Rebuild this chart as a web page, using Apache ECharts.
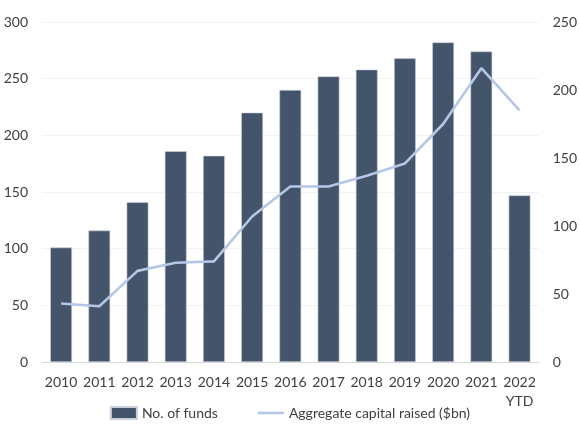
<!DOCTYPE html>
<html lang="en">
<head>
    <meta charset="UTF-8">
    <title>Funds</title>
    <style>
        * { padding: 0; margin: 0; box-sizing: border-box; }
        html, body, #chart { width: 100%; height: 100%; background: #fff; }
    </style>
</head>
<body>
    <div id="chart"></div>
    <script src="https://cdn.jsdelivr.net/npm/echarts@6/dist/echarts.min.js"></script>
    <script>
        // categories
        const years = ['2010', '2011', '2012', '2013', '2014', '2015', '2016', '2017', '2018', '2019', '2020', '2021', '2022\nYTD']
        // No. of funds (left axis)
        const fundCount = [101, 116, 141, 186, 182, 220, 240, 252, 258, 268, 282, 274, 147]
        // Aggregate capital raised, $bn (right axis)
        const capitalRaised = [43, 41, 67, 73, 74, 107, 129, 129, 137, 146, 175, 216, 185]

        const textColor = '#404040'
        const fontFamily = 'Lato, "Noto Sans", sans-serif'

        var myChart = echarts.init(document.getElementById('chart'))

        var option = {
            animation: false,
            textStyle: { fontFamily: fontFamily },
            grid: { left: 42, right: 40, top: 22, bottom: 73 },
            legend: {
                bottom: 10,
                left: 'center',
                itemGap: 40,
                itemWidth: 26,
                itemHeight: 12,
                symbolKeepAspect: true,
                textStyle: { color: textColor, fontSize: 14, fontFamily: fontFamily },
                data: [
                    { name: 'No. of funds', icon: 'rect' },
                    { name: 'Aggregate capital raised ($bn)', icon: 'path://M0,0h26v2.6h-26z' }
                ]
            },
            xAxis: {
                type: 'category',
                data: years,
                axisTick: { show: false },
                axisLine: { lineStyle: { color: '#D9D9D9' } },
                axisLabel: { color: textColor, fontSize: 14, margin: 11, lineHeight: 19, interval: 0 }
            },
            yAxis: [{
                type: 'value',
                min: 0,
                max: 300,
                interval: 50,
                axisLabel: { color: textColor, fontSize: 14, margin: 14 },
                splitLine: { lineStyle: { color: '#F2F2F2' } }
            }, {
                type: 'value',
                min: 0,
                max: 250,
                interval: 50,
                axisLabel: { color: textColor, fontSize: 14, margin: 14 },
                splitLine: { show: false }
            }],
            series: [{
                name: 'No. of funds',
                type: 'bar',
                data: fundCount,
                barWidth: '57%',
                itemStyle: { color: '#44546A', borderColor: '#C9D0DA', borderWidth: 0.6 }
            }, {
                name: 'Aggregate capital raised ($bn)',
                type: 'line',
                yAxisIndex: 1,
                data: capitalRaised,
                symbol: 'none',
                lineStyle: { color: '#B4C7E7', width: 2.6 },
                itemStyle: { color: '#B4C7E7' }
            }]
        }

        myChart.setOption(option)
    </script>
</body>
</html>
